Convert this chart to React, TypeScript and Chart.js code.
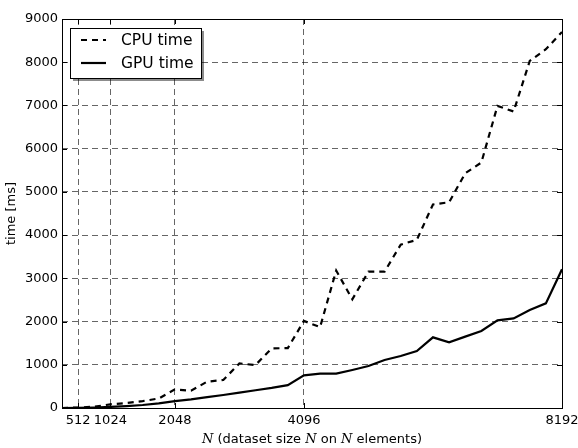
import React, { useEffect, useRef } from "react";
import { Chart, registerables } from "chart.js";

Chart.register(...registerables);

// dataset sizes N
const sizes = [
  256, 512, 768, 1024, 1280, 1536, 1792, 2048, 2304, 2560, 2816, 3072, 3328, 3584, 3840, 4096,
  4352, 4608, 4864, 5120, 5376, 5632, 5888, 6144, 6400, 6656, 6912, 7168, 7424, 7680, 7936, 8192,
];
// CPU time [ms]
const cpuTime = [
  0, 10, 30, 85, 115, 160, 220, 430, 400, 610, 648, 1030, 995, 1380, 1385, 2015,
  1870, 3180, 2515, 3155, 3155, 3780, 3890, 4710, 4760, 5430, 5680, 6990, 6860, 8030, 8300, 8700,
];
// GPU time [ms]
const gpuTime = [
  0, 5, 12, 25, 45, 70, 105, 160, 200, 250, 300, 355, 410, 465, 530, 756,
  794, 794, 879, 972, 1111, 1203, 1319, 1635, 1520, 1651, 1782, 2028, 2074, 2267, 2421, 3208,
];
const xTickValues = [512, 1024, 2048, 4096, 8192];
const seriesLabels = ["CPU time", "GPU time"];
const yTitle = "time [ms]";
// x title segments: [text, isMath]
const xTitleParts: [string, boolean][] = [
  ["N", true],
  [" (dataset size ", false],
  ["N", true],
  [" on ", false],
  ["N", true],
  [" elements)", false],
];

const SANS = "'DejaVu Sans', sans-serif";
const SERIF = "'DejaVu Serif', serif";

export default function App() {
  const ref = useRef<HTMLCanvasElement>(null);

  useEffect(() => {
    const canvas = ref.current;
    if (!canvas) return;

    const decor = {
      id: "decor",
      afterDatasetsDraw(chart: any) {
        const ctx = chart.ctx as CanvasRenderingContext2D;
        const { left, right, top, bottom } = chart.chartArea;
        const xs = chart.scales.x;
        const ys = chart.scales.y;
        ctx.save();
        ctx.strokeStyle = "#000";
        ctx.lineWidth = 1;
        ctx.setLineDash([]);
        // inward ticks
        ctx.beginPath();
        for (const t of xs.ticks) {
          const px = Math.round(xs.getPixelForValue(t.value)) + 0.5;
          ctx.moveTo(px, bottom);
          ctx.lineTo(px, bottom - 5);
          ctx.moveTo(px, top);
          ctx.lineTo(px, top + 5);
        }
        for (const t of ys.ticks) {
          const py = Math.round(ys.getPixelForValue(t.value)) + 0.5;
          ctx.moveTo(left, py);
          ctx.lineTo(left + 5, py);
          ctx.moveTo(right, py);
          ctx.lineTo(right - 5, py);
        }
        ctx.stroke();
        // frame
        ctx.strokeRect(Math.round(left) + 0.5, Math.round(top) + 0.5, Math.round(right - left), Math.round(bottom - top));

        // legend
        const lx = left + 8;
        const ly = top + 9;
        const lw = 131;
        const lh = 50;
        ctx.fillStyle = "rgba(0,0,0,0.45)";
        ctx.fillRect(lx + 3, ly + 3, lw, lh);
        ctx.fillStyle = "#fff";
        ctx.fillRect(lx, ly, lw, lh);
        ctx.strokeStyle = "#000";
        ctx.strokeRect(lx + 0.5, ly + 0.5, lw, lh);
        chart.data.datasets.forEach((ds: any, i: number) => {
          const yy = ly + 12 + i * 23;
          ctx.beginPath();
          ctx.lineWidth = 2.2;
          ctx.strokeStyle = "#000";
          ctx.setLineDash(ds.borderDash || []);
          ctx.moveTo(lx + 11, yy);
          ctx.lineTo(lx + 36, yy);
          ctx.stroke();
          ctx.setLineDash([]);
          ctx.fillStyle = "#000";
          ctx.font = `15.5px ${SANS}`;
          ctx.textBaseline = "middle";
          ctx.textAlign = "left";
          ctx.fillText(ds.label, lx + 51, yy + 1);
        });
        ctx.restore();
      },
      afterDraw(chart: any) {
        const ctx = chart.ctx as CanvasRenderingContext2D;
        const { left, right } = chart.chartArea;
        ctx.save();
        ctx.fillStyle = "#000";
        ctx.textBaseline = "alphabetic";
        ctx.textAlign = "left";
        const fontFor = (m: boolean) => (m ? `italic 13px ${SERIF}` : `13px ${SANS}`);
        let total = 0;
        for (const [s, m] of xTitleParts) {
          ctx.font = fontFor(m);
          total += ctx.measureText(s).width;
        }
        let x = (left + right) / 2 - total / 2;
        for (const [s, m] of xTitleParts) {
          ctx.font = fontFor(m);
          ctx.fillText(s, x, 443);
          x += ctx.measureText(s).width;
        }
        ctx.restore();
      },
    };

    const chart = new Chart(canvas, {
      type: "line",
      data: {
        datasets: [
          {
            label: seriesLabels[0],
            data: sizes.map((n, i) => ({ x: n, y: cpuTime[i] })),
            borderColor: "#000",
            borderWidth: 2.2,
            borderDash: [6, 5],
            pointRadius: 0,
            tension: 0,
            fill: false,
          },
          {
            label: seriesLabels[1],
            data: sizes.map((n, i) => ({ x: n, y: gpuTime[i] })),
            borderColor: "#000",
            borderWidth: 2.2,
            pointRadius: 0,
            tension: 0,
            fill: false,
          },
        ],
      },
      options: {
        responsive: false,
        animation: false,
        devicePixelRatio: 1,
        layout: { padding: { left: 0, top: 19, right: 16, bottom: 0 } },
        plugins: { legend: { display: false }, tooltip: { enabled: false } },
        scales: {
          x: {
            type: "linear",
            min: 256,
            max: 8192,
            afterBuildTicks: (scale: any) => {
              scale.ticks = xTickValues.map((v) => ({ value: v }));
            },
            afterFit: (scale: any) => {
              scale.height = 40;
              scale.paddingLeft = 0;
              scale.paddingRight = 0;
            },
            ticks: {
              autoSkip: false,
              maxRotation: 0,
              minRotation: 0,
              padding: 5,
              color: "#000",
              font: { family: SANS, size: 13 },
              callback: (v: any) => String(v),
            },
            grid: {
              drawTicks: false,
              color: "rgba(0,0,0,0.6)",
              lineWidth: 1,
            },
            border: { display: false, dash: [6, 4] },
          },
          y: {
            type: "linear",
            min: 0,
            max: 9000,
            afterFit: (scale: any) => {
              scale.width = 62;
              scale.paddingTop = 0;
              scale.paddingBottom = 0;
            },
            ticks: {
              stepSize: 1000,
              padding: 4,
              color: "#000",
              font: { family: SANS, size: 13 },
              callback: (v: any) => String(v),
            },
            grid: {
              drawTicks: false,
              color: "rgba(0,0,0,0.6)",
              lineWidth: 1,
            },
            border: { display: false, dash: [6, 4] },
            title: {
              display: true,
              text: yTitle,
              color: "#000",
              font: { family: SANS, size: 13 },
              padding: 4,
            },
          },
        },
      },
      plugins: [decor],
    } as any);

    return () => chart.destroy();
  }, []);

  return (
    <div style={{ position: "fixed", left: 0, top: 0, width: 578, height: 448, background: "#fff" }}>
      <canvas ref={ref} width={578} height={448} style={{ display: "block" }} />
    </div>
  );
}
